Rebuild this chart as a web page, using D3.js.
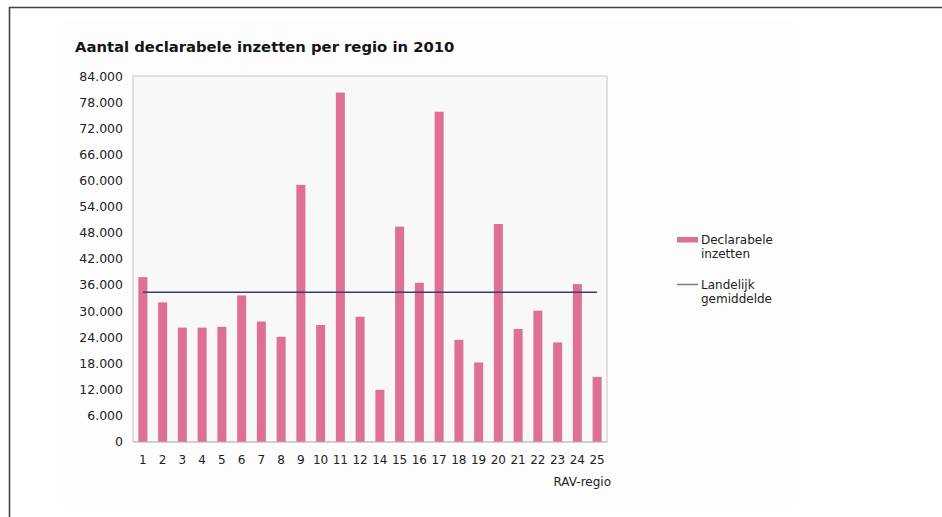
<!DOCTYPE html>
<html>
<head>
<meta charset="utf-8">
<script src="https://cdn.jsdelivr.net/npm/d3@7"></script>
<style>
  html, body { margin: 0; padding: 0; background: #ffffff; }
  svg { display: block; font-family: "DejaVu Sans", Verdana, sans-serif; }
</style>
</head>
<body>
<svg id="chart" width="942" height="517"></svg>
<script>
// RAV regions (region 13 does not exist in the series)
const regions = ["1","2","3","4","5","6","7","8","9","10","11","12","14","15","16","17","18","19","20","21","22","23","24","25"];
// Declarable ambulance deployments per region, 2010
const inzetten = [37800, 32000, 26200, 26200, 26400, 33600, 27600, 24100, 59000, 26800, 80200, 28700,
                  11900, 49400, 36500, 75800, 23400, 18200, 50000, 25900, 30100, 22800, 36200, 14900];
// National average
const landelijkGemiddelde = 34300;
const yTicks = [0, 6000, 12000, 18000, 24000, 30000, 36000, 42000, 48000, 54000, 60000, 66000, 72000, 78000, 84000];
const title = "Aantal declarabele inzetten per regio in 2010";
const xAxisTitle = "RAV-regio";
const legendLabels = [["Declarabele", "inzetten"], ["Landelijk", "gemiddelde"]];

const barColor = "#de7095";
const lineColor = "#3c3b78";
const textColor = "#222222";

const svg = d3.select("#chart");

// outer frame
svg.append("path")
  .attr("d", "M9.5,517 V7.5 H942")
  .attr("fill", "none").attr("stroke", "#444").attr("stroke-width", 1.6);

// faint chart area
svg.append("rect")
  .attr("x", 63).attr("y", 22).attr("width", 730).attr("height", 483)
  .attr("fill", "#fdfdfd");

const plot = { left: 133, right: 607, top: 76, bottom: 441.7 };

const x = d3.scaleBand()
  .domain(regions)
  .range([plot.left, plot.right])
  .paddingInner(0.544)
  .paddingOuter(0.272);

const y = d3.scaleLinear()
  .domain([0, 84000])
  .range([plot.bottom, plot.top]);

// plot background + border
svg.append("rect")
  .attr("x", plot.left).attr("y", plot.top)
  .attr("width", plot.right - plot.left).attr("height", plot.bottom - plot.top)
  .attr("fill", "#f8f8f8").attr("stroke", "#c4c4c4").attr("stroke-width", 1);

// title
svg.append("text")
  .attr("x", 75).attr("y", 52)
  .attr("font-size", 14.8).attr("font-weight", "bold").attr("fill", "#141414")
  .text(title);

// y axis
const fmt = v => d3.format(",")(v).replace(/,/g, ".");
const yAxis = d3.axisLeft(y).tickValues(yTicks).tickFormat(fmt).tickSize(0).tickPadding(10);
const gy = svg.append("g").attr("transform", `translate(${plot.left},0)`).call(yAxis);
gy.select(".domain").remove();
gy.selectAll("text").attr("font-size", 12.5).attr("fill", textColor).attr("font-family", "DejaVu Sans, sans-serif");

// x axis
const xAxis = d3.axisBottom(x).tickSize(0).tickPadding(14);
const gx = svg.append("g").attr("transform", `translate(0,${plot.bottom})`).call(xAxis);
gx.select(".domain").attr("stroke", "#c4c4c4");
gx.selectAll("text").attr("font-size", 12).attr("fill", textColor).attr("font-family", "DejaVu Sans, sans-serif");

svg.append("text")
  .attr("x", 611).attr("y", 485.5)
  .attr("text-anchor", "end")
  .attr("font-size", 12).attr("fill", textColor)
  .text(xAxisTitle);

// bars
svg.append("g").selectAll("rect")
  .data(regions)
  .join("rect")
  .attr("x", d => x(d))
  .attr("y", (d, i) => y(inzetten[i]))
  .attr("width", x.bandwidth())
  .attr("height", (d, i) => y(0) - y(inzetten[i]))
  .attr("fill", barColor);

// national average line
const line = d3.line()
  .x(d => x(d) + x.bandwidth() / 2)
  .y(() => y(landelijkGemiddelde));
svg.append("path")
  .datum([regions[0], regions[regions.length - 1]])
  .attr("d", line)
  .attr("fill", "none").attr("stroke", lineColor).attr("stroke-width", 1.5);

// legend
const lg = svg.append("g").attr("font-size", 12).attr("fill", textColor);
lg.append("rect").attr("x", 677).attr("y", 237).attr("width", 21).attr("height", 5.5).attr("fill", barColor);
lg.append("line").attr("x1", 677).attr("x2", 698).attr("y1", 284.5).attr("y2", 284.5)
  .attr("stroke", "#7574a8").attr("stroke-width", 1.5);
const legendY = [240, 285];
legendLabels.forEach((lines, k) => {
  lines.forEach((t, j) => {
    lg.append("text")
      .attr("x", 701).attr("y", legendY[k] + j * 13.5)
      .attr("dy", "0.35em")
      .text(t);
  });
});
</script>
</body>
</html>
